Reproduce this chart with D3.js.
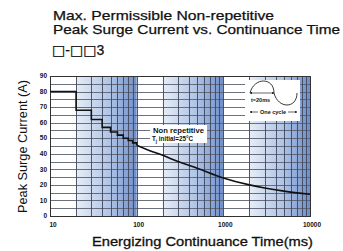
<!DOCTYPE html>
<html>
<head>
<meta charset="utf-8">
<script src="https://cdn.jsdelivr.net/npm/d3@7"></script>
<style>
  html, body { margin: 0; padding: 0; background: #fff; }
  svg { display: block; }
  text { font-family: "Liberation Sans", Arial, sans-serif; fill: #111; }
</style>
</head>
<body>
<div id="chart"></div>
<script>
// step part of the curve (half cycles), value holds until next time
const stepTimes = [10, 20, 30, 40, 50, 60, 70, 80, 90, 100];
const stepCurrents = [80, 68, 62, 57, 54, 52, 50, 48.5, 47, 45.5];

// smooth part of the curve
const curveTimes = [100, 142, 200, 300, 500, 1000, 2000, 3000, 5000, 10000];
const curveCurrents = [45.5, 42, 39, 35, 30.7, 24.5, 20, 18, 16, 14];

const decades = [10, 100, 1000];
const xTickValues = [10, 100, 1000, 10000];
const xTickLabels = ["10", "100", "1000", "10000"];
const yTickValues = [0, 10, 20, 30, 40, 50, 60, 70, 80, 90];

const width = 343, height = 251;

const svg = d3.select("#chart").append("svg")
    .attr("width", width)
    .attr("height", height);

const x = d3.scaleLog().domain([10, 10000]).range([50, 310]);
const y = d3.scaleLinear().domain([0, 90]).range([216, 76]);

// gradient for the blue bands
const defs = svg.append("defs");
const grad = defs.append("linearGradient")
    .attr("id", "band")
    .attr("x1", "0%").attr("x2", "100%")
    .attr("y1", "0%").attr("y2", "0%");
grad.append("stop").attr("offset", "0%").attr("stop-color", "#e6edf7");
grad.append("stop").attr("offset", "55%").attr("stop-color", "#b0c4e6");
grad.append("stop").attr("offset", "100%").attr("stop-color", "#6f8fca");

// plot background
svg.append("rect")
    .attr("x", x(10)).attr("y", y(90))
    .attr("width", x(10000) - x(10)).attr("height", y(0) - y(90))
    .attr("fill", "#fff");

svg.selectAll("rect.band")
    .data(decades)
    .enter().append("rect")
    .attr("class", "band")
    .attr("x", d => x(d * 2))
    .attr("y", y(90))
    .attr("width", d => x(d * 10) - x(d * 2))
    .attr("height", y(0) - y(90))
    .attr("fill", "url(#band)");

// grid
const hGrid = d3.range(0, 91, 5);
svg.append("g")
    .selectAll("line")
    .data(hGrid)
    .enter().append("line")
    .attr("x1", x(10)).attr("x2", x(10000))
    .attr("y1", d => Math.round(y(d)) + 0.5)
    .attr("y2", d => Math.round(y(d)) + 0.5)
    .attr("stroke", "#5a6070")
    .attr("stroke-width", 0.9);

const vGrid = [];
decades.forEach(d => { for (let k = 1; k <= 9; k++) vGrid.push(d * k); });
vGrid.push(10000);
svg.append("g")
    .selectAll("line")
    .data(vGrid)
    .enter().append("line")
    .attr("x1", d => Math.round(x(d)) + 0.5)
    .attr("x2", d => Math.round(x(d)) + 0.5)
    .attr("y1", y(0)).attr("y2", y(90))
    .attr("stroke", "#3f4658")
    .attr("stroke-width", 0.9);

// border
svg.append("rect")
    .attr("x", x(10) + 0.5).attr("y", Math.round(y(90)) + 0.5)
    .attr("width", x(10000) - x(10)).attr("height", Math.round(y(0)) - Math.round(y(90)))
    .attr("fill", "none")
    .attr("stroke", "#333")
    .attr("stroke-width", 1);

// curve
const stepData = stepTimes.map((t, i) => [t, stepCurrents[i]]);
const curveData = curveTimes.map((t, i) => [t, curveCurrents[i]]);

svg.append("path")
    .datum(stepData)
    .attr("fill", "none")
    .attr("stroke", "#111")
    .attr("stroke-width", 1.6)
    .attr("d", d3.line().x(d => x(d[0])).y(d => y(d[1])).curve(d3.curveStepAfter));

svg.append("path")
    .datum(curveData)
    .attr("fill", "none")
    .attr("stroke", "#111")
    .attr("stroke-width", 1.6)
    .attr("d", d3.line().x(d => x(d[0])).y(d => y(d[1])).curve(d3.curveMonotoneX));

// tick labels
svg.append("g")
    .selectAll("text")
    .data(yTickValues)
    .enter().append("text")
    .attr("x", 47)
    .attr("y", d => y(d) + 2.2)
    .attr("text-anchor", "end")
    .attr("font-size", 6.5)
    .attr("font-weight", "bold")
    .text(d => d);

svg.append("g")
    .selectAll("text")
    .data(xTickValues)
    .enter().append("text")
    .attr("x", (d, i) => i === 0 ? x(d) + 3 : x(d) + 2)
    .attr("y", 227)
    .attr("text-anchor", "middle")
    .attr("font-size", 6.5)
    .attr("font-weight", "bold")
    .text((d, i) => xTickLabels[i]);

// axis titles
svg.append("text")
    .attr("transform", "translate(27,146.5) rotate(-90)")
    .attr("text-anchor", "middle")
    .attr("font-size", 12.5)
    .attr("textLength", 133)
    .attr("lengthAdjust", "spacingAndGlyphs")
    .text("Peak Surge Current (A)");

svg.append("text")
    .attr("x", 92).attr("y", 246)
    .attr("font-size", 13)
    .attr("stroke", "#111").attr("stroke-width", 0.3)
    .attr("textLength", 221)
    .attr("lengthAdjust", "spacingAndGlyphs")
    .text("Energizing Continuance Time(ms)");

// title
svg.append("text")
    .attr("x", 53).attr("y", 19.5)
    .attr("font-size", 13)
    .attr("stroke", "#111").attr("stroke-width", 0.25)
    .attr("textLength", 221)
    .attr("lengthAdjust", "spacingAndGlyphs")
    .text("Max. Permissible Non-repetitive");
svg.append("text")
    .attr("x", 53).attr("y", 34)
    .attr("font-size", 13)
    .attr("stroke", "#111").attr("stroke-width", 0.25)
    .attr("textLength", 287)
    .attr("lengthAdjust", "spacingAndGlyphs")
    .text("Peak Surge Current vs. Continuance Time");
const code = svg.append("text")
    .attr("x", 52).attr("y", 55)
    .attr("font-size", 14)
    .attr("stroke", "#111").attr("stroke-width", 0.25);
code.append("tspan").attr("font-family", "DejaVu Sans, sans-serif").attr("font-size", 14).text("\u25A1");
code.append("tspan").text("-");
code.append("tspan").attr("font-family", "DejaVu Sans, sans-serif").attr("font-size", 14).text("\u25A1\u25A1");
code.append("tspan").text("3");

// annotation
const note = svg.append("g");
note.append("rect")
    .attr("x", 150).attr("y", 125)
    .attr("width", 57).attr("height", 18)
    .attr("fill", "#fff");
note.append("text")
    .attr("x", 153).attr("y", 132.5)
    .attr("font-size", 6.3)
    .attr("font-weight", "bold")
    .attr("textLength", 51)
    .attr("lengthAdjust", "spacingAndGlyphs")
    .text("Non repetitive");
const t2 = note.append("text")
    .attr("x", 152).attr("y", 141)
    .attr("font-size", 6.3)
    .attr("font-weight", "bold");
t2.append("tspan").text("T");
t2.append("tspan").attr("font-size", 4.5).attr("dy", 1.5).text("j");
t2.append("tspan").attr("dy", -1.5).text(" initial=25\u00B0C");

// sine wave inset
const inset = svg.append("g").attr("transform", "translate(245,80)");
inset.append("rect")
    .attr("width", 55).attr("height", 41)
    .attr("fill", "#fff");
const p = d3.path();
p.moveTo(5, 13);
p.bezierCurveTo(9, -3, 29, -3, 29, 13);
p.bezierCurveTo(33, 29, 52, 29, 52, 13);
inset.append("path")
    .attr("d", p.toString())
    .attr("fill", "none")
    .attr("stroke", "#222")
    .attr("stroke-width", 0.9);

defs.append("marker")
    .attr("id", "arr")
    .attr("viewBox", "0 0 6 6")
    .attr("refX", 5).attr("refY", 3)
    .attr("markerWidth", 4).attr("markerHeight", 4)
    .attr("orient", "auto-start-reverse")
    .append("path")
    .attr("d", "M0,0L6,3L0,6Z")
    .attr("fill", "#222");

inset.append("line")
    .attr("x1", 5).attr("x2", 29).attr("y1", 13).attr("y2", 13)
    .attr("stroke", "#222").attr("stroke-width", 0.7)
    .attr("marker-start", "url(#arr)").attr("marker-end", "url(#arr)");
inset.append("text")
    .attr("x", 6).attr("y", 21.5)
    .attr("font-size", 5.5)
    .attr("font-weight", "bold")
    .text("t=20ms");

inset.append("line")
    .attr("x1", 5).attr("x2", 13).attr("y1", 32).attr("y2", 32)
    .attr("stroke", "#222").attr("stroke-width", 0.7)
    .attr("marker-start", "url(#arr)");
inset.append("line")
    .attr("x1", 43).attr("x2", 52).attr("y1", 32).attr("y2", 32)
    .attr("stroke", "#222").attr("stroke-width", 0.7)
    .attr("marker-end", "url(#arr)");
inset.append("text")
    .attr("x", 28).attr("y", 34)
    .attr("text-anchor", "middle")
    .attr("font-size", 5.5)
    .attr("font-weight", "bold")
    .text("One cycle");
</script>
</body>
</html>
